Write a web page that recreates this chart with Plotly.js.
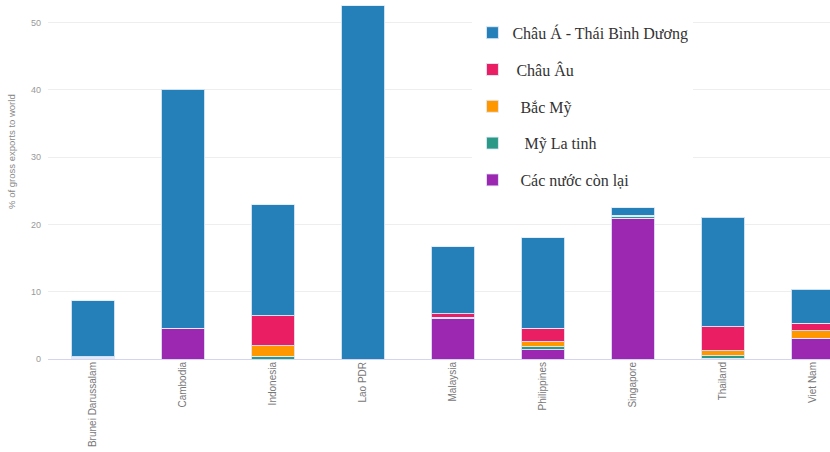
<!DOCTYPE html>
<html>
<head>
<meta charset="utf-8">
<script src="https://cdn.plot.ly/plotly-3.0.1.min.js"></script>
<style>
  html, body { margin: 0; padding: 0; background: #fff; overflow: hidden; }
  #chart { width: 870px; height: 452px; }
</style>
</head>
<body>
<div id="chart"></div>
<script>
// Economies on the x axis
const categories = ['Brunei Darussalam', 'Cambodia', 'Indonesia', 'Lao PDR', 'Malaysia',
                    'Philippines', 'Singapore', 'Thailand', 'Viet Nam'];

// Share of gross exports to world (%), by destination region
const asiaPacific  = [8.3, 35.5, 16.5, 52.5, 10.0, 13.4, 1.1, 16.3, 5.1];
const europe       = [0.1, 0.0, 4.4, 0.0, 0.5, 2.0, 0.1, 3.6, 1.1];
const northAmerica = [0.1, 0.0, 1.6, 0.0, 0.15, 0.8, 0.1, 0.7, 1.1];
const latinAmerica = [0.05, 0.0, 0.4, 0.0, 0.05, 0.4, 0.3, 0.4, 0.1];
const restOfWorld  = [0.1, 4.6, 0.0, 0.0, 6.0, 1.4, 20.9, 0.1, 3.0];

// Legend labels, in legend order
const seriesNames = ['Châu Á - Thái Bình Dương', '\u00a0Châu Âu', '\u00a0\u00a0Bắc Mỹ',
                     '\u00a0\u00a0\u00a0Mỹ La tinh', '\u00a0\u00a0Các nước còn lại'];
const seriesColors = ['#2580b9', '#e91e63', '#ff9800', '#2a9a86', '#9c27b0'];

// Stacked bottom-up: rest of world, Latin America, North America, Europe, Asia-Pacific
const stackOrder = [
  {values: restOfWorld, idx: 4},
  {values: latinAmerica, idx: 3},
  {values: northAmerica, idx: 2},
  {values: europe, idx: 1},
  {values: asiaPacific, idx: 0}
];

const traces = stackOrder.map(s => ({
  type: 'bar',
  x: categories,
  y: s.values,
  name: seriesNames[s.idx],
  legendgroup: 'g' + s.idx,
  legendrank: s.idx + 1,
  width: 0.48,
  marker: {color: seriesColors[s.idx], line: {color: 'rgba(225,235,250,0.9)', width: 1}},
  hoverinfo: 'x+y+name'
}));

const layout = {
  width: 870,
  height: 452,
  margin: {l: 48, r: 12, t: 0, b: 93},
  paper_bgcolor: '#fff',
  plot_bgcolor: '#fff',
  barmode: 'stack',
  bargap: 0.52,
  font: {family: 'Arial, Liberation Sans, sans-serif', color: '#777'},
  xaxis: {
    type: 'category',
    range: [-0.5, 8.5],
    tickangle: -90,
    tickfont: {size: 10, color: '#777'},
    showgrid: false,
    showline: false,
    ticks: '',
    zeroline: false
  },
  yaxis: {
    range: [0, 53.37],
    tickvals: [0, 10, 20, 30, 40, 50],
    tickfont: {size: 9, color: '#999'},
    gridcolor: '#eeeeee',
    gridwidth: 1,
    zeroline: true,
    zerolinecolor: '#d4d4f0',
    zerolinewidth: 1,
    ticks: '',
    ticklabelstandoff: 6
  },
  legend: {
    x: 0.524,
    y: 0.956,
    xanchor: 'left',
    yanchor: 'top',
    bgcolor: '#fff',
    borderwidth: 0,
    traceorder: 'grouped',
    tracegroupgap: 13,
    font: {family: 'Liberation Serif, Times New Roman, serif', size: 16, color: '#333'}
  },
  annotations: [{
    text: '% of gross exports to world',
    xref: 'paper', yref: 'paper',
    x: -0.0444, y: 0.577,
    xanchor: 'center', yanchor: 'middle',
    textangle: -90,
    showarrow: false,
    font: {size: 9.5, color: '#888'}
  }]
};

Plotly.newPlot('chart', traces, layout, {displayModeBar: false, staticPlot: true});
</script>
</body>
</html>
